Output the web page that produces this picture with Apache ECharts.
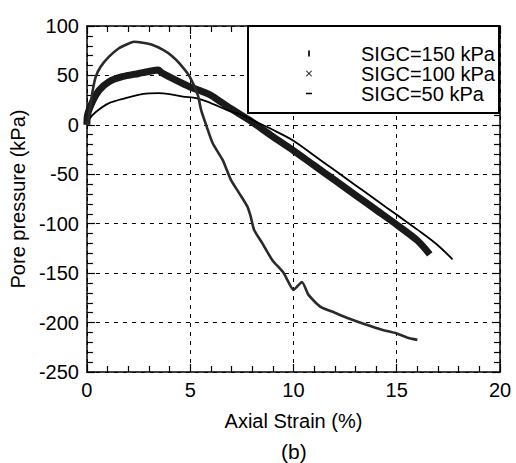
<!DOCTYPE html>
<html>
<head>
<meta charset="utf-8">
<script src="https://cdn.jsdelivr.net/npm/echarts@6/dist/echarts.min.js"></script>
<style>
html,body{margin:0;padding:0;background:#fff;}
#chart{width:516px;height:463px;}
</style>
</head>
<body>
<div id="chart"></div>
<script>
// ---- data ----
const seriesNames = ['SIGC=150 kPa', 'SIGC=100 kPa', 'SIGC=50 kPa'];

const strain150 = [0, 0.08, 0.27, 0.43, 0.67, 1.07, 1.55, 2.0, 2.27, 2.7, 3.15, 3.71, 4.1, 4.49, 4.97, 5.37, 5.53, 5.77, 6.09, 6.57, 6.97, 7.37, 7.77, 7.93, 8.09, 8.49, 8.97, 9.53, 10.01, 10.2, 10.41, 10.73, 11.29, 12.0, 12.65, 13.5, 14.24, 15.0, 15.5, 16.0];
const pore150   = [0, 6.7, 33.6, 48.7, 59, 69, 77.5, 82, 84, 83, 81, 75.7, 70, 62, 49, 30, 15, 0, -18.6, -35.5, -55.7, -69, -82.7, -92.8, -106, -119.7, -136.6, -150, -167, -163, -159, -172, -183.8, -190, -195.6, -202, -207, -211, -215, -217.5];

const strain100 = [0, 0.03, 0.27, 0.59, 1.07, 1.71, 2.51, 3.0, 3.45, 3.6, 4.33, 4.97, 5.61, 6.0, 6.57, 7.0, 7.85, 9, 10, 11, 12, 13, 14, 15, 16, 16.6];
const pore100   = [0, 10, 23.5, 35, 43.7, 48.7, 52, 54, 55.5, 53, 45, 38.6, 33.6, 30, 22, 16, 5, -12, -26, -41, -56, -71, -86, -101, -117, -131];

const strain50 = [0, 0.08, 0.43, 1.07, 1.87, 2.67, 3.47, 4.0, 4.65, 5.3, 6.0, 6.9, 7.5, 8, 9, 10, 11, 12, 13, 14, 15, 16, 17, 17.7];
const pore50   = [0, 5, 13, 22, 27, 31, 32, 31, 28.5, 27, 22, 14, 10, 5, -5, -16, -31, -46, -61, -76, -91, -106, -122, -136];

const xMin = 0, xMax = 20, xStep = 5;
const yMin = -250, yMax = 100, yStep = 50;

// ---- build ----
function zip(a, b) { return a.map((v, i) => [v, b[i]]); }

const FONT = 'Liberation Sans, Arial, sans-serif';
const chart = echarts.init(document.getElementById('chart'), null, { renderer: 'svg' });

const axisCommon = {
  axisLine: { show: true, onZero: false, lineStyle: { color: '#000', width: 1.5 } },
  axisTick: { show: true, inside: true, length: 8, lineStyle: { color: '#000', width: 1.2 } },
  minorTick: { show: true, splitNumber: 5, length: 6, lineStyle: { color: '#000', width: 1.2 } }
};

const icons = [
  'path://M0,0H1.4V5H0Z',
  'path://M0,1L1,0L5,4L9,0L10,1L6,5L10,9L9,10L5,6L1,10L0,9L4,5Z',
  'path://M0,0H6V1.5H0Z'
];

const option = {
  animation: false,
  backgroundColor: '#fff',
  textStyle: { fontFamily: FONT, color: '#000' },
  title: {
    text: '(b)', left: 281, top: 441, padding: 0,
    textStyle: { fontFamily: FONT, fontSize: 21, fontWeight: 'normal', color: '#000' }
  },
  grid: { left: 83, right: 16, top: 26, bottom: 91, containLabel: false },
  xAxis: [
    Object.assign({
      type: 'value', position: 'bottom', min: xMin, max: xMax, interval: xStep,
      name: 'Axial Strain (%)', nameLocation: 'middle', nameGap: 39,
      nameTextStyle: { fontFamily: FONT, fontSize: 20, color: '#000' },
      axisLabel: { fontFamily: FONT, fontSize: 20, color: '#000', margin: 8 },
      splitLine: { show: true, lineStyle: { color: '#000', width: 1, type: [4, 5] } }
    }, axisCommon),
    Object.assign({
      type: 'value', position: 'top', min: xMin, max: xMax, interval: xStep,
      axisLabel: { show: false }, splitLine: { show: false }
    }, axisCommon)
  ],
  yAxis: [
    Object.assign({
      type: 'value', position: 'left', min: yMin, max: yMax, interval: yStep,
      name: 'Pore pressure (kPa)', nameLocation: 'middle', nameGap: 52, nameRotate: 90,
      nameTextStyle: { fontFamily: FONT, fontSize: 20, color: '#000' },
      axisLabel: { fontFamily: FONT, fontSize: 20, color: '#000', margin: 8 },
      splitLine: { show: true, lineStyle: { color: '#000', width: 1, type: [4, 5] } }
    }, axisCommon),
    Object.assign({
      type: 'value', position: 'right', min: yMin, max: yMax, interval: yStep,
      axisLabel: { show: false }, splitLine: { show: false }
    }, axisCommon)
  ],
  legend: {
    orient: 'vertical', left: 306, top: 43.5, padding: 0, itemGap: 0,
    itemWidth: 6, itemHeight: 6,
    data: seriesNames.map((n, i) => ({ name: n, icon: icons[i] })),
    formatter: name => '{sp| }{t|' + name + '}',
    textStyle: {
      fontFamily: FONT, fontSize: 20, color: '#000', lineHeight: 19.5,
      rich: {
        sp: { width: 44, fontSize: 20, lineHeight: 19.5 },
        t: { fontFamily: FONT, fontSize: 20, color: '#000', lineHeight: 19.5 }
      }
    }
  },
  graphic: [{
    type: 'rect', z: 3, silent: true,
    shape: { x: 248, y: 26, width: 251, height: 87 },
    style: { fill: '#fff', stroke: '#000', lineWidth: 2 }
  }],
  series: [
    {
      name: seriesNames[1], type: 'line', data: zip(strain100, pore100),
      xAxisIndex: 0, yAxisIndex: 0, symbol: 'none', smooth: 0.3,
      itemStyle: { color: '#000' }, lineStyle: { color: '#1a1a1a', width: 7 }
    },
    {
      name: seriesNames[2], type: 'line', data: zip(strain50, pore50),
      xAxisIndex: 0, yAxisIndex: 0, symbol: 'none', smooth: 0.3,
      itemStyle: { color: '#000' }, lineStyle: { color: '#000', width: 1.8 }
    },
    {
      name: seriesNames[0], type: 'line', data: zip(strain150, pore150),
      xAxisIndex: 0, yAxisIndex: 0, symbol: 'none', smooth: 0.2,
      itemStyle: { color: '#000' }, lineStyle: { color: '#2a2a2a', width: 2.6 }
    }
  ]
};
chart.setOption(option);
</script>
</body>
</html>
